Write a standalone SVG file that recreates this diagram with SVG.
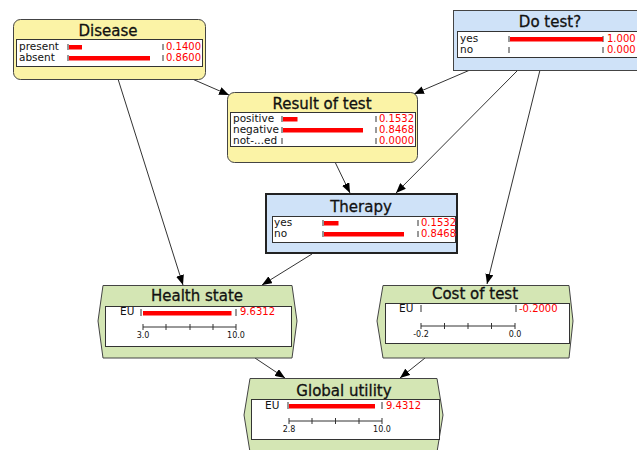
<svg xmlns="http://www.w3.org/2000/svg" width="637" height="450" viewBox="0 0 637 450">
  <style>
    .chance { fill: #fbf3a6; stroke: #444; stroke-width: 1; }
    .decision { fill: #cfe2f8; stroke: #444; stroke-width: 1; }
    .utility { fill: #d4e6b4; stroke: #444; stroke-width: 1; }
    .panel { fill: #fff; stroke: #333; stroke-width: 1; }
    .title { font-family: "DejaVu Sans", sans-serif; font-size: 15px; fill: #111; stroke: #111; stroke-width: 0.3; text-anchor: middle; }
    .lbl { font-family: "DejaVu Sans", sans-serif; font-size: 10.5px; fill: #111; }
    .val { font-family: "DejaVu Sans", sans-serif; font-size: 10px; fill: #f00; }
    .axl { font-family: "DejaVu Sans", sans-serif; font-size: 8px; fill: #111; text-anchor: middle; }
    .bar { fill: #f00; }
    .tick { stroke: #333; stroke-width: 1; }
    .edge { stroke: #333; stroke-width: 1; fill: none; marker-end: url(#arrow); }
  </style>
  <defs>
    <marker id="arrow" viewBox="0 0 10 8" refX="10" refY="4" markerWidth="10" markerHeight="8" markerUnits="userSpaceOnUse" orient="auto">
      <path d="M0,0 L10,4 L0,8 Z" fill="#000"/>
    </marker>
  </defs>

  <rect width="637" height="450" fill="#fff"/>

  <g id="connectors">
    <line class="edge" x1="190" y1="78" x2="229" y2="95"/>
    <line class="edge" x1="118" y1="79" x2="183" y2="285"/>
    <line class="edge" x1="470" y1="70" x2="414" y2="94"/>
    <line class="edge" x1="518" y1="70" x2="396" y2="193"/>
    <line class="edge" x1="540" y1="70" x2="487" y2="284"/>
    <line class="edge" x1="335" y1="162" x2="350" y2="193"/>
    <line class="edge" x1="312" y1="254" x2="262" y2="285"/>
    <line class="edge" x1="255" y1="358" x2="285" y2="378"/>
    <line class="edge" x1="425" y1="358" x2="400" y2="378"/>
  </g>

  <g id="disease">
    <rect class="chance" x="13.5" y="19.5" width="192" height="60" rx="7"/>
    <text class="title" x="108" y="35.5">Disease</text>
    <rect class="panel" x="16.5" y="39.5" width="186" height="27"/>
    <text class="lbl" x="19" y="49.5">present</text>
    <text class="lbl" x="19" y="60.5">absent</text>
    <line class="tick" x1="68" y1="44" x2="68" y2="50"/>
    <line class="tick" x1="68" y1="55" x2="68" y2="61"/>
    <line class="tick" x1="163" y1="44" x2="163" y2="50"/>
    <line class="tick" x1="163" y1="55" x2="163" y2="61"/>
    <rect class="bar" x="69" y="45" width="13" height="4.5"/>
    <rect class="bar" x="69" y="56" width="81" height="4.5"/>
    <text class="val" x="166" y="49.5">0.1400</text>
    <text class="val" x="166" y="60.5">0.8600</text>
  </g>

  <g id="result-of-test">
    <rect class="chance" x="227.5" y="92.5" width="190" height="70" rx="7"/>
    <text class="title" x="322" y="108.5">Result of test</text>
    <rect class="panel" x="230.5" y="112.5" width="185" height="34"/>
    <text class="lbl" x="233" y="121.5">positive</text>
    <text class="lbl" x="233" y="132.5">negative</text>
    <text class="lbl" x="233" y="143.5">not-...ed</text>
    <line class="tick" x1="282" y1="116" x2="282" y2="122"/>
    <line class="tick" x1="282" y1="127" x2="282" y2="133"/>
    <line class="tick" x1="282" y1="138" x2="282" y2="144"/>
    <line class="tick" x1="376" y1="116" x2="376" y2="122"/>
    <line class="tick" x1="376" y1="127" x2="376" y2="133"/>
    <line class="tick" x1="376" y1="138" x2="376" y2="144"/>
    <rect class="bar" x="283" y="117" width="14.5" height="4.5"/>
    <rect class="bar" x="283" y="128" width="80" height="4.5"/>
    <text class="val" x="379" y="121.5">0.1532</text>
    <text class="val" x="379" y="132.5">0.8468</text>
    <text class="val" x="379" y="143.5">0.0000</text>
  </g>

  <g id="do-test">
    <rect class="decision" x="453.5" y="10.5" width="194" height="60"/>
    <text class="title" x="550" y="26.5">Do test?</text>
    <rect class="panel" x="457.5" y="31.5" width="186" height="26"/>
    <text class="lbl" x="460" y="42">yes</text>
    <text class="lbl" x="460" y="53">no</text>
    <line class="tick" x1="509" y1="36" x2="509" y2="42"/>
    <line class="tick" x1="509" y1="47" x2="509" y2="53"/>
    <line class="tick" x1="603" y1="36" x2="603" y2="42"/>
    <line class="tick" x1="603" y1="47" x2="603" y2="53"/>
    <rect class="bar" x="510" y="37" width="93" height="4.5"/>
    <text class="val" x="607" y="42">1.000</text>
    <text class="val" x="607" y="53">0.000</text>
  </g>

  <g id="therapy">
    <rect class="decision" x="266" y="194" width="191" height="59" style="stroke:#222;stroke-width:2"/>
    <text class="title" x="361" y="212">Therapy</text>
    <rect class="panel" x="272.5" y="216.5" width="183" height="26"/>
    <text class="lbl" x="274" y="226">yes</text>
    <text class="lbl" x="274" y="237">no</text>
    <line class="tick" x1="323" y1="220" x2="323" y2="226"/>
    <line class="tick" x1="323" y1="231" x2="323" y2="237"/>
    <line class="tick" x1="418" y1="220" x2="418" y2="226"/>
    <line class="tick" x1="418" y1="231" x2="418" y2="237"/>
    <rect class="bar" x="324" y="221" width="14.5" height="4.5"/>
    <rect class="bar" x="324" y="232" width="80" height="4.5"/>
    <text class="val" x="421" y="226">0.1532</text>
    <text class="val" x="421" y="237">0.8468</text>
  </g>

  <g id="health-state">
    <polygon class="utility" points="103,285.5 292,285.5 297,321 292,358 103,358 98,321"/>
    <text class="title" x="197" y="301">Health state</text>
    <rect class="panel" x="105.5" y="306.5" width="186" height="40"/>
    <text class="lbl" x="120" y="315">EU</text>
    <line class="tick" x1="141" y1="309" x2="141" y2="316"/>
    <line class="tick" x1="236" y1="309" x2="236" y2="316"/>
    <rect class="bar" x="143" y="311" width="88.5" height="4.5"/>
    <text class="val" x="240" y="315">9.6312</text>
    <line class="tick" x1="143" y1="327" x2="236" y2="327"/>
    <line class="tick" x1="143" y1="324" x2="143" y2="330"/>
    <line class="tick" x1="166" y1="324" x2="166" y2="330"/>
    <line class="tick" x1="190" y1="324" x2="190" y2="330"/>
    <line class="tick" x1="213" y1="324" x2="213" y2="330"/>
    <line class="tick" x1="236" y1="324" x2="236" y2="330"/>
    <text class="axl" x="143" y="338">3.0</text>
    <text class="axl" x="236" y="338">10.0</text>
  </g>

  <g id="cost-of-test">
    <polygon class="utility" points="383,285.5 569,285.5 573,321 569,358 383,358 377,321"/>
    <text class="title" x="475" y="299">Cost of test</text>
    <rect class="panel" x="385.5" y="303.5" width="184" height="40"/>
    <text class="lbl" x="399" y="311.5">EU</text>
    <line class="tick" x1="421" y1="305" x2="421" y2="312"/>
    <line class="tick" x1="516" y1="305" x2="516" y2="312"/>
    <text class="val" x="519" y="311.5">-0.2000</text>
    <line class="tick" x1="421" y1="326" x2="515" y2="326"/>
    <line class="tick" x1="421" y1="323" x2="421" y2="329"/>
    <line class="tick" x1="444.5" y1="323" x2="444.5" y2="329"/>
    <line class="tick" x1="468" y1="323" x2="468" y2="329"/>
    <line class="tick" x1="491.5" y1="323" x2="491.5" y2="329"/>
    <line class="tick" x1="515" y1="323" x2="515" y2="329"/>
    <text class="axl" x="421" y="337">-0.2</text>
    <text class="axl" x="515" y="337">0.0</text>
  </g>

  <g id="global-utility">
    <polygon class="utility" points="250,378.5 437,378.5 443,415 437,452 250,452 244,415"/>
    <text class="title" x="344" y="396">Global utility</text>
    <rect class="panel" x="251.5" y="399.5" width="188" height="40"/>
    <text class="lbl" x="265" y="408.5">EU</text>
    <line class="tick" x1="288" y1="402" x2="288" y2="409"/>
    <line class="tick" x1="382" y1="402" x2="382" y2="409"/>
    <rect class="bar" x="289" y="404" width="86" height="4.5"/>
    <text class="val" x="386" y="408.5">9.4312</text>
    <line class="tick" x1="289" y1="421" x2="382" y2="421"/>
    <line class="tick" x1="289" y1="418" x2="289" y2="424"/>
    <line class="tick" x1="312" y1="418" x2="312" y2="424"/>
    <line class="tick" x1="335.5" y1="418" x2="335.5" y2="424"/>
    <line class="tick" x1="359" y1="418" x2="359" y2="424"/>
    <line class="tick" x1="382" y1="418" x2="382" y2="424"/>
    <text class="axl" x="289" y="432">2.8</text>
    <text class="axl" x="382" y="432">10.0</text>
  </g>
</svg>
